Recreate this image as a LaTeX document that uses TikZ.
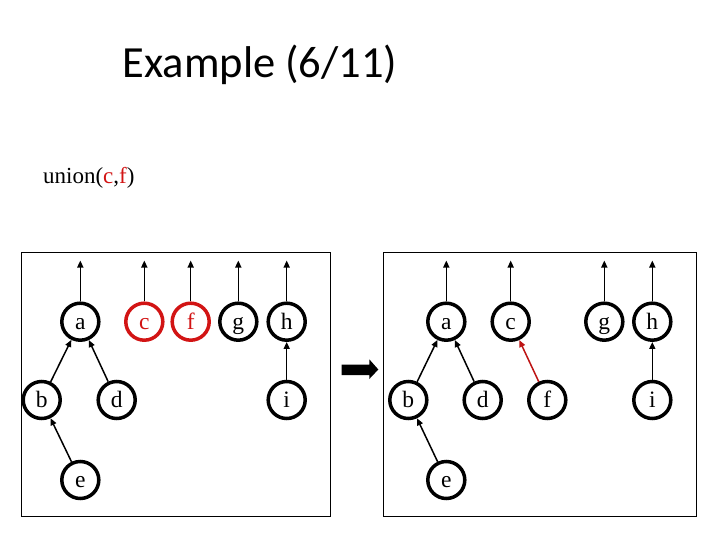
\documentclass[tikz,border=0pt]{standalone}
\usepackage{fontspec}
\setmainfont{Liberation Serif}
\newfontfamily\titlefont{Carlito}
\usetikzlibrary{arrows.meta}
\definecolor{myred}{RGB}{210,20,20}
\definecolor{edgered}{RGB}{190,20,20}
\begin{document}
\begin{tikzpicture}[x=1pt,y=-1pt,
  vert/.style={circle,draw=black,line width=3.5pt,fill=white,minimum size=37pt,inner sep=0pt,text height=15pt,text depth=0pt,font=\fontsize{23.5}{23.5}\selectfont},
  redvert/.style={vert,draw=myred,text=myred},
  parent/.style={line width=1.5pt,-{Triangle[length=7pt,width=6pt]}},
  frame/.style={draw=black,line width=1pt}]
\useasboundingbox (0,0) rectangle (720,540);
\fill[white] (0,0) rectangle (720,540);
\node[anchor=base,font=\titlefont\fontsize{44.5}{44.5}\selectfont] (title) at (260,78) {Example (6/11)};
\node[anchor=base west,inner sep=0pt,font=\fontsize{23}{23}\selectfont] (call) at (43,183.5) {union(\textcolor{myred}{c},\textcolor{myred}{f})};
% frames
\draw[frame] (21,252.7) rectangle (330.7,516);
\draw[frame] (383.3,252.7) rectangle (696.7,516);
% left panel
\node[vert] (La) at (80.3,321.7) {a};
\node[redvert] (Lc) at (144.3,321.7) {c};
\node[redvert] (Lf) at (190.7,321.7) {f};
\node[vert] (Lg) at (238.3,321.7) {g};
\node[vert] (Lh) at (286.7,321.7) {h};
\node[vert] (Lb) at (41.7,400) {b};
\node[vert] (Ld) at (116.7,400) {d};
\node[vert] (Li) at (286.7,400) {i};
\node[vert] (Le) at (80.3,480) {e};
\foreach \n/\x in {La/80.3,Lc/144.3,Lf/190.7,Lg/238.3,Lh/286.7}{
  \coordinate (\n top) at (\x,260.5);
  \draw[parent] (\n) -- (\n top);
}
\draw[parent] (Lb) -- (La);
\draw[parent] (Ld) -- (La);
\draw[parent] (Le) -- (Lb);
\draw[parent] (Li) -- (Lh);
% big arrow
\fill[black] (341.7,364.5) -- (369.3,364.5) -- (369.3,359.3) -- (378.3,369.5) -- (369.3,379) -- (369.3,375) -- (341.7,375) -- cycle;
\coordinate (bigarrow) at (360,369.5);
% right panel
\node[vert] (Ra) at (446.3,321.7) {a};
\node[vert] (Rc) at (510.7,321.7) {c};
\node[vert] (Rg) at (604.3,321.7) {g};
\node[vert] (Rh) at (652.3,321.7) {h};
\node[vert] (Rb) at (408.3,400) {b};
\node[vert] (Rd) at (482.7,400) {d};
\node[vert] (Rf) at (547.3,400) {f};
\node[vert] (Ri) at (652.3,400) {i};
\node[vert] (Re) at (446.3,480) {e};
\foreach \n/\x in {Ra/446.3,Rc/510.7,Rg/604.3,Rh/652.3}{
  \coordinate (\n top) at (\x,260.5);
  \draw[parent] (\n) -- (\n top);
}
\draw[parent] (Rb) -- (Ra);
\draw[parent] (Rd) -- (Ra);
\draw[parent] (Re) -- (Rb);
\draw[parent] (Ri) -- (Rh);
\draw[parent,draw=edgered,fill=edgered] (Rf) -- (Rc);
\end{tikzpicture}
\end{document}
